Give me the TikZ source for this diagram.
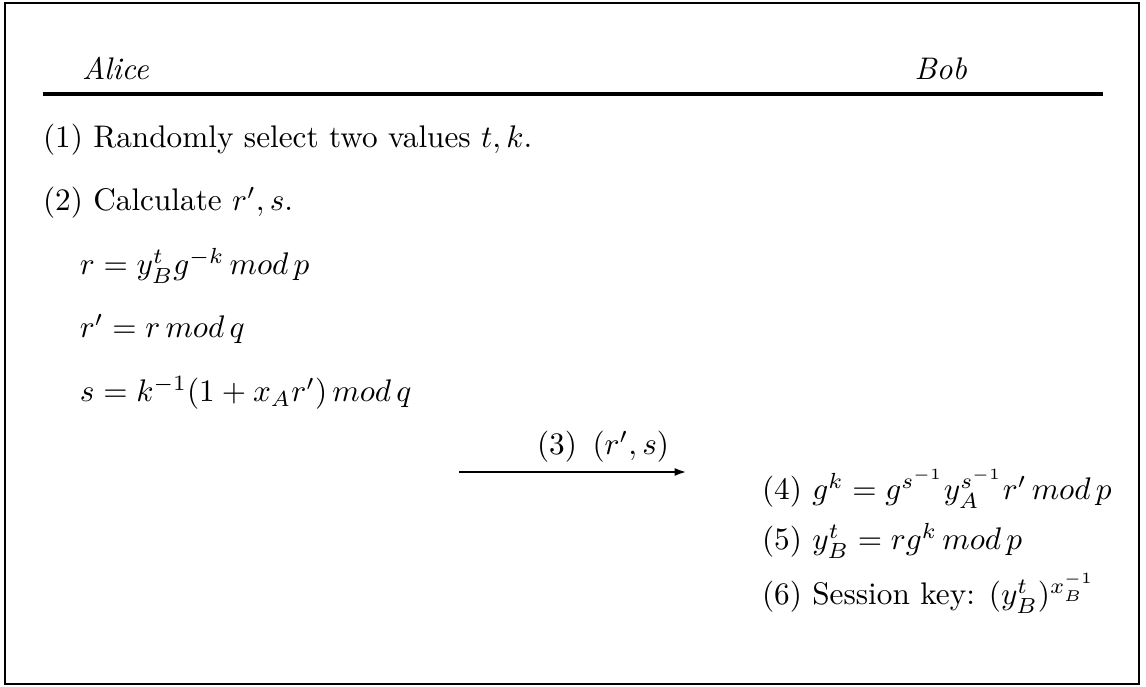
\documentclass[tikz,border=0pt]{standalone}
\usetikzlibrary{arrows.meta}
\begin{document}
\begin{tikzpicture}[x=0.32pt,y=-0.32pt,
  txt/.style={inner sep=0pt,outer sep=0pt},
  frame/.style={line width=0.7pt},
  rulel/.style={line width=1pt},
  msg/.style={line width=0.8pt,-{Latex[length=4pt,width=2.6pt]}}]
\useasboundingbox (0,0) rectangle (1146,687);
\draw[frame] (5,3) rectangle (1139,684);
\node[txt,anchor=base west] (alice) at (82,80) {\textit{Alice}};
\node[txt,anchor=base east] (bob) at (967,80) {\textit{Bob}};
\coordinate (rl) at (43,94);
\coordinate (rr) at (1103,94);
\draw[rulel] (rl) -- (rr);
\node[txt,anchor=base west] (s1) at (43,148) {(1) Randomly select two values $t,k$.};
\node[txt,anchor=base west] (s2) at (43,211) {(2) Calculate $r',s$.};
\node[txt,anchor=base west] (e1) at (80,275) {$r=y_B^tg^{-k}\,mod\,p$};
\node[txt,anchor=base west] (e2) at (80,338) {$r'=r\,mod\,q$};
\node[txt,anchor=base west] (e3) at (80,402) {$s=k^{-1}(1+x_Ar')\,mod\,q$};
\coordinate (a1) at (459,472);
\coordinate (a2) at (687,472);
\draw[msg] (a1) -- (a2);
\node[txt,anchor=base west] (m3) at (537,455) {(3)\hspace{5pt}$(r',s)$};
\node[txt,anchor=base west] (s4) at (762,500) {(4) $g^k=g^{s^{-1}}y_A^{s^{-1}}r'\,mod\,p$};
\node[txt,anchor=base west] (s5) at (762,550) {(5) $y_B^t=rg^k\,mod\,p$};
\node[txt,anchor=base west] (s6) at (762,605) {(6) Session key: $(y_B^t)^{x_B^{-1}}$};
\end{tikzpicture}
\end{document}
